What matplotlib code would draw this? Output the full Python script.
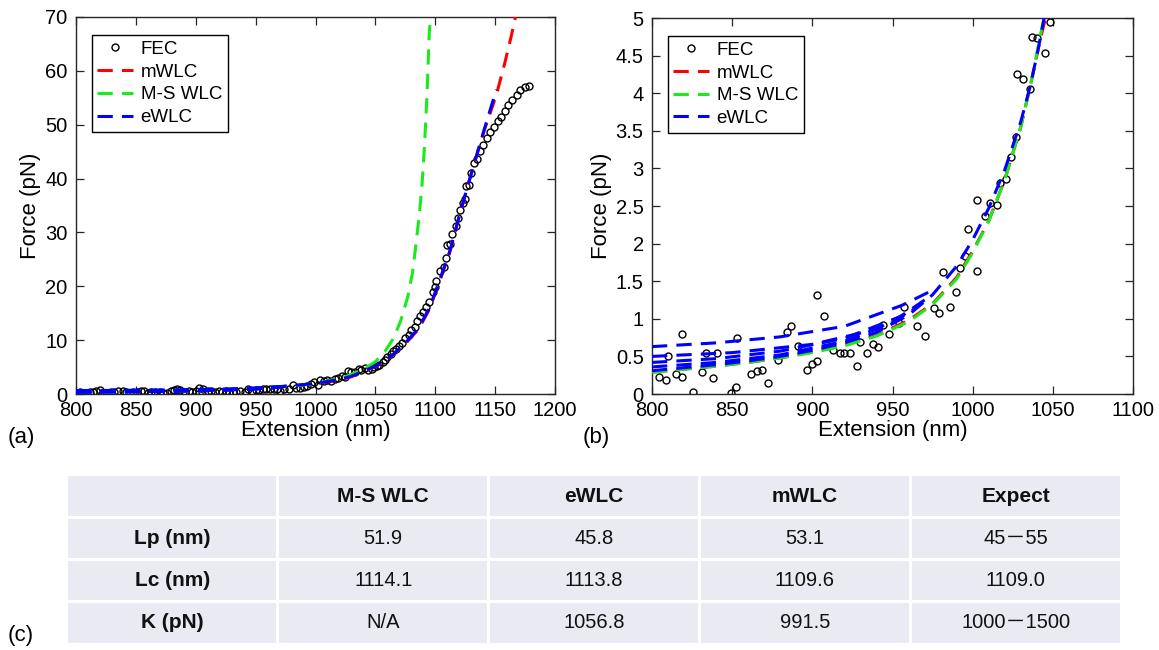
import matplotlib
matplotlib.use("Agg")
import matplotlib.pyplot as plt
from matplotlib.ticker import FuncFormatter, MultipleLocator
from matplotlib.patches import Rectangle

plt.rcParams['font.family'] = ['Liberation Sans', 'DejaVu Sans']

# ---------------- data: panel (a) ----------------
fec_a_x = [803, 806, 809, 812, 814, 817, 820, 823, 826, 829, 832, 835, 839, 842, 845, 848,
           851, 854, 857, 860, 863, 866, 870, 873, 876, 879, 882, 884, 887, 891, 894, 897,
           900, 903, 906, 910, 913, 916, 919, 922, 925, 928, 931, 934, 937, 941, 944, 947,
           950, 953, 956, 959, 962, 965, 968, 970, 974, 978, 981, 984, 987, 990, 993, 996,
           999, 1002, 1004, 1007, 1010, 1013, 1016, 1019, 1022, 1025, 1027, 1030, 1033,
           1036, 1038, 1041, 1044, 1047, 1049, 1051, 1053, 1056, 1058, 1060, 1063, 1065,
           1067, 1070, 1072, 1075, 1078, 1080, 1083, 1085, 1087, 1090, 1092, 1095, 1098,
           1100, 1101, 1104, 1107, 1109, 1110, 1112, 1114, 1117, 1119, 1121, 1123, 1125,
           1126, 1128, 1130, 1132, 1135, 1137, 1140, 1143, 1146, 1149, 1152, 1155, 1158,
           1161, 1164, 1168, 1171, 1175, 1178]
fec_a_f = [0.3, 0.1, 0.2, 0.4, 0.3, 0.5, 0.8, 0.2, 0.1, 0.4, 0.3, 0.5, 0.6, 0.3, 0.1, 0.4,
           0.3, 0.6, 0.5, 0.2, 0.4, 0.3, 0.3, 0.2, 0.1, 0.5, 0.8, 0.9, 0.8, 0.3, 0.5, 0.4,
           0.6, 1.2, 1.0, 0.6, 0.5, 0.3, 0.6, 0.4, 0.5, 0.2, 0.4, 0.3, 0.6, 0.4, 0.9, 0.6,
           0.8, 0.8, 1.0, 0.9, 1.0, 1.0, 0.9, 0.6, 0.9, 1.0, 1.6, 1.2, 1.2, 1.3, 1.5, 1.8,
           2.2, 1.6, 2.6, 2.4, 2.6, 2.5, 2.7, 2.9, 3.4, 3.2, 4.3, 4.0,
           4.0, 4.6, 4.5, 4.8, 4.5, 4.6, 5.0, 5.2, 5.4, 6.0, 6.3, 6.8, 7.4, 8.0,
           8.4, 9.0, 9.4, 10.4, 10.9, 11.8, 12.4, 13.6, 14.5, 15.2, 16.2, 17.0, 19.0,
           19.8, 21.0, 22.8, 23.6, 25.2, 27.6, 27.8, 29.8, 31.2, 32.6, 34.2, 35.4, 36.2,
           38.6, 38.8, 41.0, 42.9, 43.6, 45.1, 46.2, 47.5, 48.6, 49.6, 50.6, 51.5, 52.6,
           53.6, 54.6, 55.6, 56.4, 57.0, 57.2]

mwlc_a_x = [800, 850, 900, 950, 1000, 1020, 1030, 1042, 1052, 1064, 1076, 1086, 1095,
            1103, 1112, 1120, 1127, 1135, 1141, 1151, 1158, 1163, 1167]
mwlc_a_f = [0.3, 0.42, 0.6, 0.95, 1.9, 2.6, 3.2, 4.3, 5.3, 7.1, 9.6, 12.0, 15.7,
            20.5, 26.2, 33.0, 38.6, 44.7, 49.0, 55.5, 61.4, 66.0, 70.0]

ms_a_x = [800, 850, 900, 950, 1000, 1025, 1040, 1050, 1058, 1065, 1071, 1077, 1081,
          1084, 1087, 1089, 1091, 1093, 1095, 1096]
ms_a_f = [0.3, 0.42, 0.58, 0.96, 1.9, 3.2, 4.6, 6.0, 7.9, 10.3, 13.5, 18.0, 22.5,
          28.0, 34.0, 39.0, 46.0, 55.0, 67.0, 70.0]

ewlc_a_x = [800, 850, 900, 950, 1000, 1020, 1030, 1042, 1052, 1064, 1076, 1086, 1095,
            1103, 1112, 1120, 1127, 1135, 1141, 1151]
ewlc_a_f = [0.3, 0.43, 0.62, 0.98, 1.95, 2.7, 3.3, 4.4, 5.4, 7.2, 9.7, 12.2, 15.9,
            20.7, 26.4, 33.0, 38.5, 44.6, 49.2, 56.5]

# ---------------- data: panel (b) ----------------
fec_b_x = [804.6, 808.6, 810, 815, 818.5, 819, 825.4, 831, 833.5, 838, 840.5, 849, 852.5,
           853, 862, 865.5, 868.5, 872.4, 878.6, 884, 887, 891, 896.5, 899.7, 903, 903,
           907.5, 913, 917, 920, 923.7, 928, 930, 934.4, 937.6, 941, 944, 948, 954, 957,
           965, 970, 976, 979, 981.5, 986, 989.8, 992, 995, 997, 1003, 1003, 1007.7,
           1010.5, 1015, 1017, 1021, 1023.8, 1026.8, 1027.5, 1031.4, 1035.5, 1037, 1040,
           1045, 1048]
fec_b_f = [0.22, 0.19, 0.5, 0.27, 0.23, 0.80, 0.03, 0.29, 0.55, 0.21, 0.55, 0.01, 0.09,
           0.74, 0.27, 0.30, 0.32, 0.15, 0.45, 0.82, 0.91, 0.64, 0.32, 0.40, 0.44, 1.32,
           1.04, 0.58, 0.54, 0.55, 0.54, 0.37, 0.69, 0.55, 0.66, 0.62, 0.92, 0.80, 0.95,
           1.16, 0.91, 0.77, 1.15, 1.08, 1.62, 1.16, 1.35, 1.67, 1.84, 2.20, 1.64, 2.58,
           2.37, 2.54, 2.51, 2.80, 2.86, 3.15, 3.42, 4.26, 4.19, 4.05, 4.75, 4.73, 4.53,
           4.95]

mwlc_b_x = [800, 820, 840, 860, 880, 900, 920, 940, 960, 975, 990, 1000, 1010, 1020,
            1030, 1037, 1042, 1046]
mwlc_b_f = [0.29, 0.33, 0.37, 0.42, 0.48, 0.56, 0.65, 0.78, 0.98, 1.2, 1.55, 1.9, 2.3,
            2.85, 3.55, 4.2, 4.7, 5.05]

ms_b_x = [800, 820, 840, 860, 880, 900, 920, 940, 960, 975, 990, 1000, 1010, 1020,
          1030, 1037, 1042, 1045]
ms_b_f = [0.29, 0.33, 0.37, 0.42, 0.48, 0.55, 0.64, 0.77, 0.96, 1.19, 1.53, 1.88, 2.3,
          2.85, 3.55, 4.2, 4.75, 5.05]

ewlc_b_x = [800, 820, 840, 860, 880, 900, 920, 940, 960, 975, 990, 1000, 1010, 1020,
            1030, 1036, 1041, 1045]
ewlc_b_f = [0.31, 0.35, 0.39, 0.44, 0.5, 0.58, 0.68, 0.82, 1.05, 1.32, 1.7, 2.05, 2.47,
            2.98, 3.62, 4.1, 4.6, 5.05]

# extra eWLC fit branches visible at low force
ewlc_extra_x = [[800, 840, 880, 920, 950, 965],
                [800, 840, 880, 920, 955, 970],
                [800, 850, 900, 940, 965],
                [800, 840, 880, 920, 956, 975]]
ewlc_extra_f = [[0.36, 0.42, 0.52, 0.70, 0.95, 1.15],
                [0.42, 0.47, 0.57, 0.74, 1.03, 1.25],
                [0.50, 0.55, 0.66, 0.86, 1.15],
                [0.63, 0.68, 0.76, 0.90, 1.18, 1.38]]

# ---------------- data: table (c) ----------------
col_headers = ["", "M-S WLC", "eWLC", "mWLC", "Expect"]
row_labels = ["Lp (nm)", "Lc (nm)", "K (pN)"]
table_values = [["51.9", "45.8", "53.1", "45－55"],
                ["1114.1", "1113.8", "1109.6", "1109.0"],
                ["N/A", "1056.8", "991.5", "1000－1500"]]

# ---------------- styling ----------------
W, H = 1159, 650
fig = plt.figure(figsize=(W / 100, H / 100), dpi=100)

RED = (1, 0, 0)
GREEN = (0.1, 0.92, 0.1)
BLUE = (0, 0, 1)
AX_COL = '#262626'
dash = (0, (5, 3))
LW = 2.2

def ax_rect(x0, y0, x1, y1):
    return [x0 / W, 1 - y1 / H, (x1 - x0) / W, (y1 - y0) / H]

fmt = FuncFormatter(lambda v, p: f"{v:g}")

def style_axes(ax):
    for s in ax.spines.values():
        s.set_color(AX_COL)
        s.set_linewidth(1.0)
    ax.tick_params(direction='in', top=True, right=True, length=5.5, width=0.9,
                   colors=AX_COL, labelcolor='black', labelsize=14.5)
    ax.tick_params(axis='x', pad=5)
    ax.tick_params(axis='y', pad=6)
    ax.xaxis.set_major_formatter(fmt)
    ax.yaxis.set_major_formatter(fmt)
    ax.set_xlabel("Extension (nm)", fontsize=16, labelpad=0)
    ax.set_ylabel("Force (pN)", fontsize=16, labelpad=3)

def draw_panel(ax, fx, ff, mx, mf, sx, sf, ex, ef, extra=True):
    ax.plot(fx, ff, 'o', ms=5.0, mfc='none', mec='black', mew=1.0, label='FEC', zorder=2)
    ax.plot(mx, mf, color=RED, lw=LW, ls=dash, label='mWLC', zorder=3)
    ax.plot(sx, sf, color=GREEN, lw=LW, ls=dash, label='M-S WLC', zorder=3)
    ax.plot(ex, ef, color=BLUE, lw=LW, ls=dash, label='eWLC', zorder=4)
    if extra:
        for xx, yy in zip(ewlc_extra_x, ewlc_extra_f):
            ax.plot(xx, yy, color=BLUE, lw=LW, ls=dash, zorder=4)
    leg = ax.legend(loc='upper left', bbox_to_anchor=(0.033, 0.952), borderaxespad=0,
                    fontsize=13.5, frameon=True, fancybox=False, framealpha=1,
                    edgecolor='black', handlelength=1.9, handletextpad=0.4,
                    borderpad=0.3, labelspacing=0.3)
    leg.get_frame().set_linewidth(1.0)

# panel (a)
axa = fig.add_axes(ax_rect(76, 17, 555, 394))
draw_panel(axa, fec_a_x, fec_a_f, mwlc_a_x, mwlc_a_f, ms_a_x, ms_a_f, ewlc_a_x, ewlc_a_f)
axa.set_xlim(800, 1200)
axa.set_ylim(0, 70)
axa.xaxis.set_major_locator(MultipleLocator(50))
axa.yaxis.set_major_locator(MultipleLocator(10))
style_axes(axa)

# panel (b)
axb = fig.add_axes(ax_rect(652, 18, 1133, 394))
draw_panel(axb, fec_b_x, fec_b_f, mwlc_b_x, mwlc_b_f, ms_b_x, ms_b_f, ewlc_b_x, ewlc_b_f)
axb.set_xlim(800, 1100)
axb.set_ylim(0, 5)
axb.xaxis.set_major_locator(MultipleLocator(50))
axb.yaxis.set_major_locator(MultipleLocator(0.5))
style_axes(axb)

# panel labels
fig.text(8 / W, 1 - 437 / H, "(a)", fontsize=16, va='center', ha='left')
fig.text(583 / W, 1 - 437 / H, "(b)", fontsize=16, va='center', ha='left')
fig.text(8 / W, 1 - 635 / H, "(c)", fontsize=16, va='center', ha='left')

# table (c)
axt = fig.add_axes(ax_rect(67, 475, 1121, 644))
ncols = len(col_headers)
nrows = len(row_labels) + 1
axt.set_xlim(0, ncols)
axt.set_ylim(nrows, 0)
axt.axis('off')
CELL = '#E9EAF2'
gx, gy = 0.014, 0.07
txt_fam = ['Liberation Sans', 'Noto Sans CJK SC', 'DejaVu Sans']
for r in range(nrows):
    for c in range(ncols):
        axt.add_patch(Rectangle((c + gx / 2, r + gy / 2), 1 - gx, 1 - gy,
                                facecolor=CELL, edgecolor='none'))
for c, h in enumerate(col_headers):
    if h:
        axt.text(c + 0.5, 0.5, h, ha='center', va='center', fontsize=15,
                 fontweight='bold', family=txt_fam, color='#111111')
for r, lab in enumerate(row_labels):
    axt.text(0.5, r + 1.5, lab, ha='center', va='center', fontsize=15,
             fontweight='bold', family=txt_fam, color='#111111')
    for c, v in enumerate(table_values[r]):
        axt.text(c + 1.5, r + 1.5, v, ha='center', va='center', fontsize=14.5,
                 family=txt_fam, color='#111111')

fig.savefig("out.png", dpi=100)
